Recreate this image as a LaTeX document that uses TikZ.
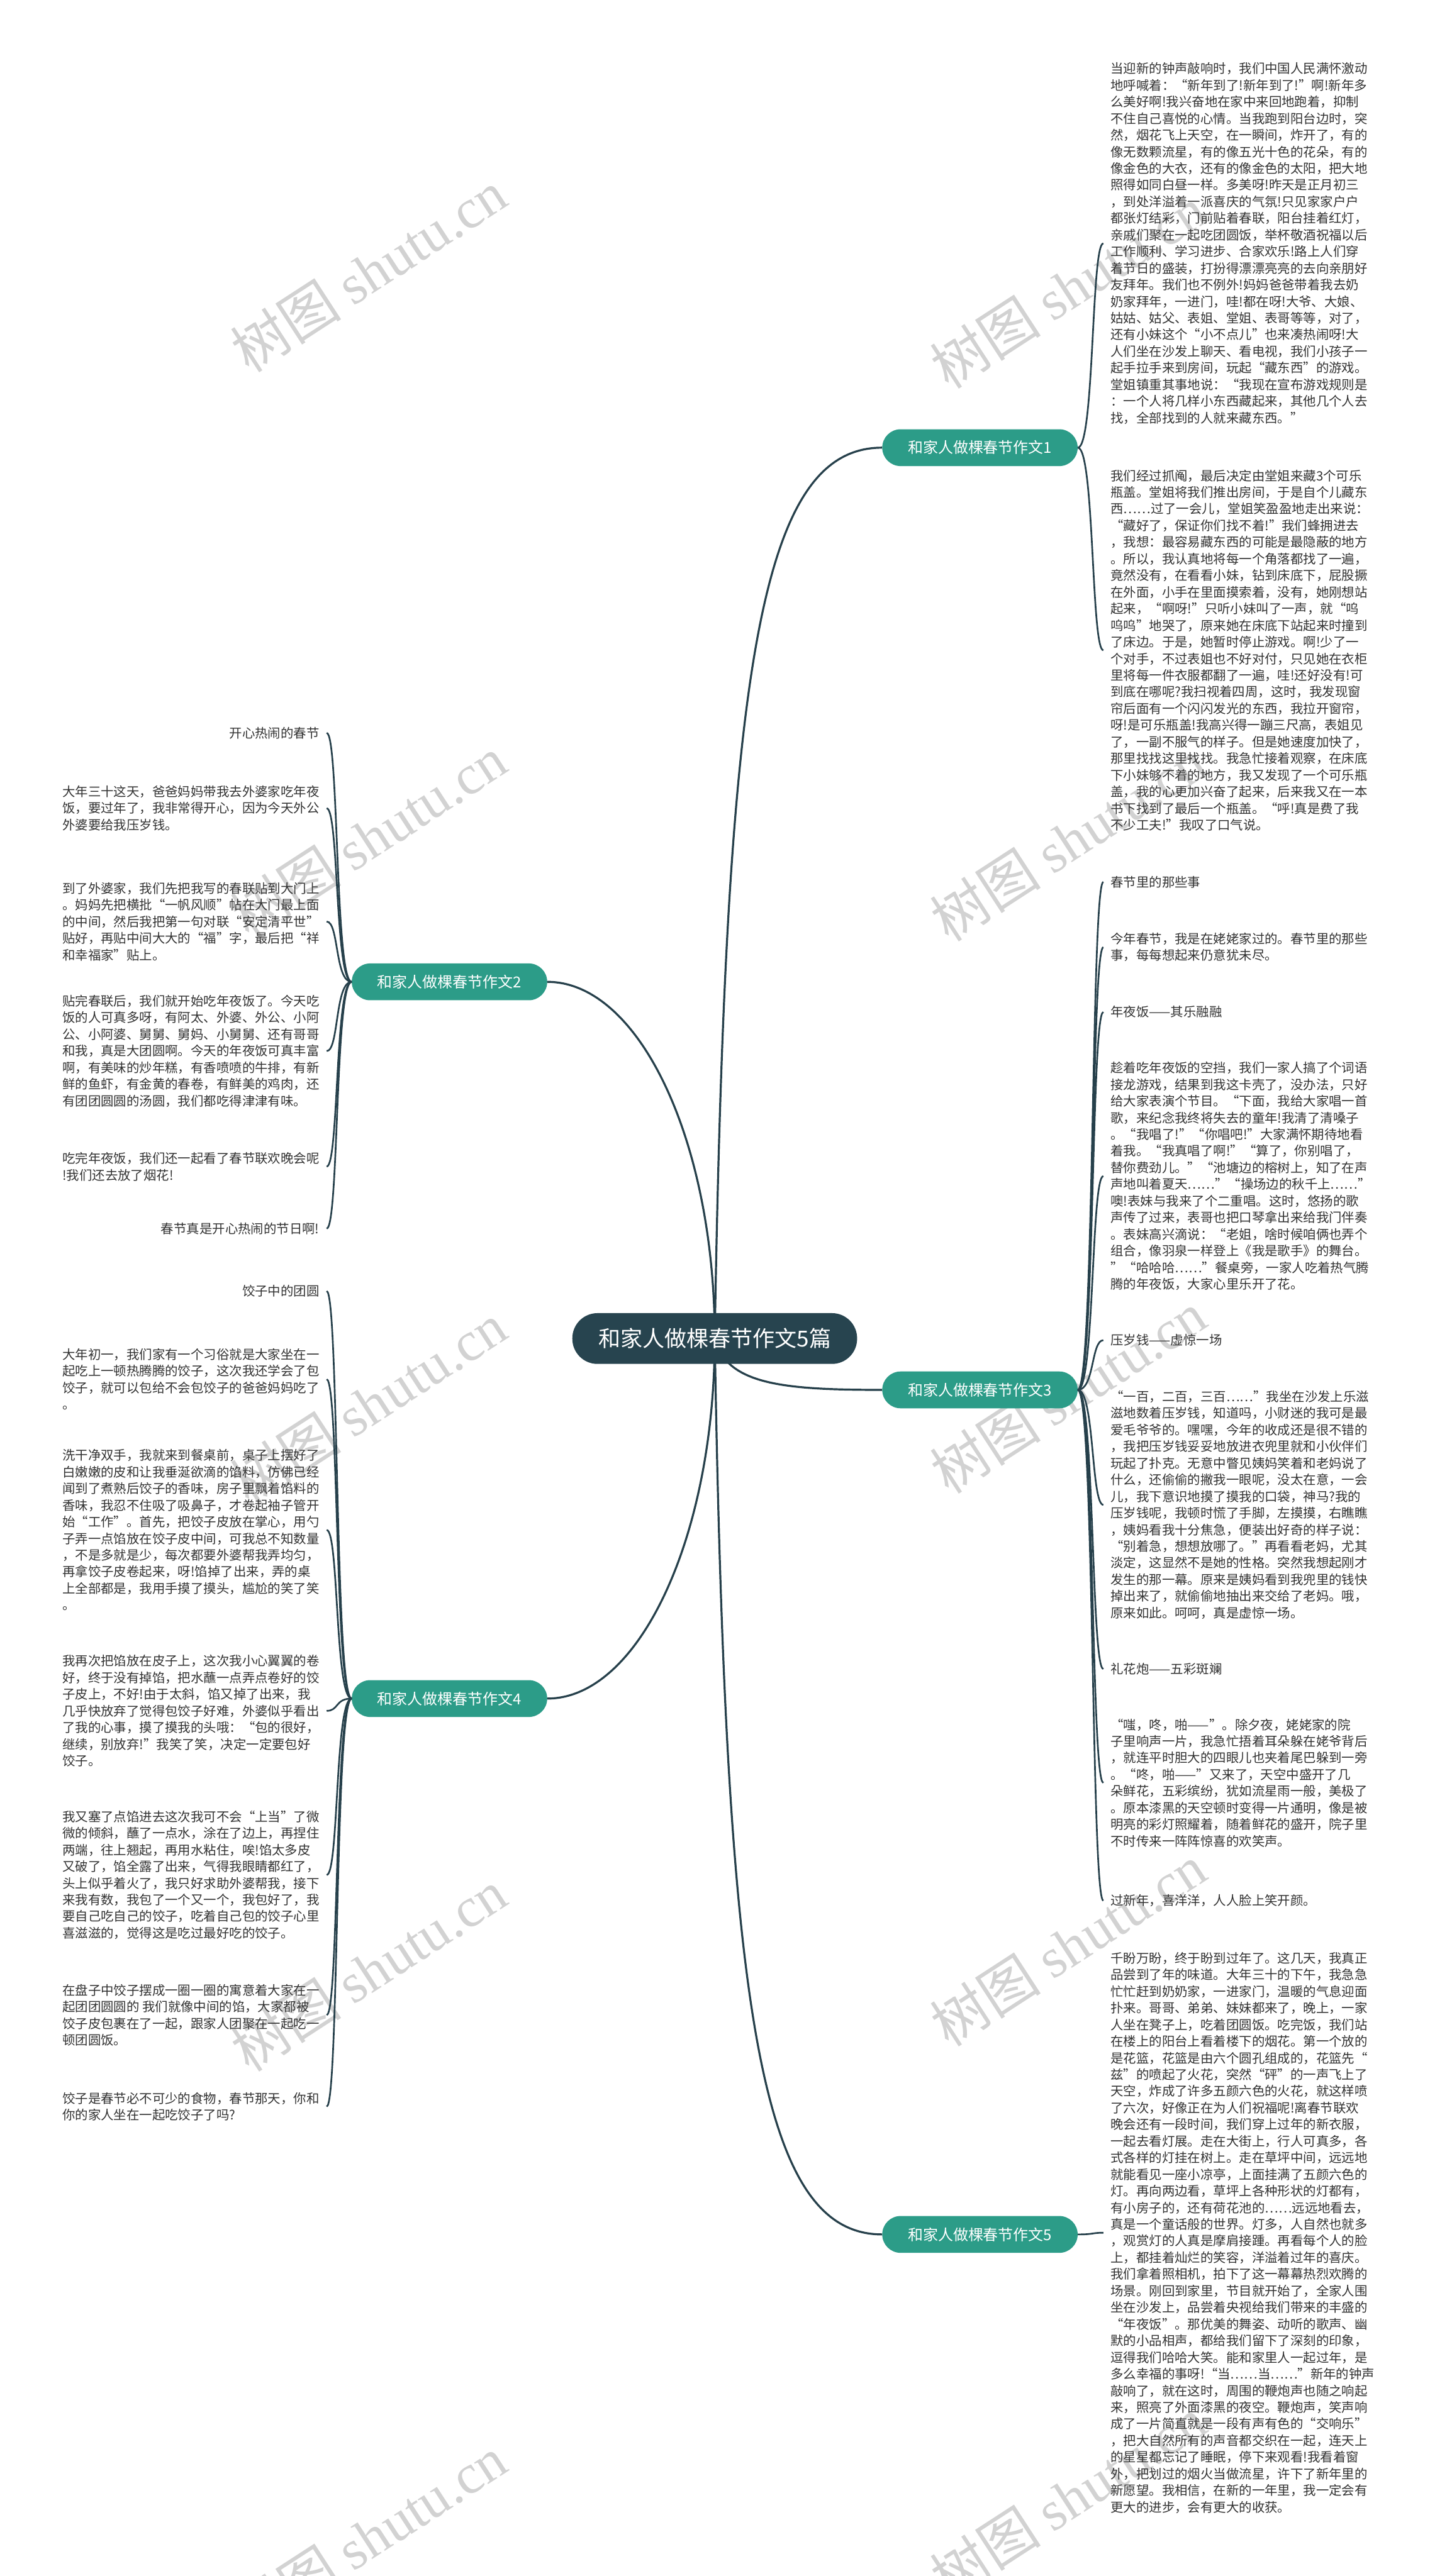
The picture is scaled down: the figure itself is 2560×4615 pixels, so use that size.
\documentclass[tikz,border=0pt]{standalone}
\usepackage{fontspec}
\setmainfont{Noto Sans CJK SC}
\newfontfamily\wmlatin{Liberation Serif}
\definecolor{linec}{HTML}{26404B}
\definecolor{branchc}{HTML}{2C9C88}
\definecolor{rootc}{HTML}{27444F}
\definecolor{txtc}{HTML}{333333}
\definecolor{wmc}{HTML}{D2D2D2}
\tikzset{
  leaf/.style={inner sep=0pt, align=left, text=txtc, font=\fontsize{23}{29.8}\selectfont},
  leafR/.style={leaf, anchor=west},
  leafL/.style={leaf, anchor=east},
  branch/.style={fill=branchc, rounded corners=33pt, text=white, minimum width=350pt, minimum height=66pt, inner sep=0pt, font=\fontsize{27}{30}\selectfont},
  root/.style={fill=rootc, rounded corners=45pt, text=white, minimum width=510pt, minimum height=91pt, inner sep=0pt, font=\fontsize{39.5}{42}\selectfont},
  mainline/.style={draw=linec, line width=3.6pt},
  subline/.style={draw=linec, line width=3pt},
  wm/.style={text=wmc, rotate=33, font=\fontsize{100}{100}\selectfont}
}
\begin{document}
\begin{tikzpicture}[x=1pt,y=-1pt]
\fill[white] (0,0) rectangle (2560,4615);
\useasboundingbox (0,0) rectangle (2560,4615);
% watermarks
\foreach \wx/\wy in {660/486, 1913/515, 660/1500, 1913/1505, 660/2515, 1913/2495, 660/3530, 1913/3485, 660/4545, 1913/4475}{
  \node[wm] (wm-\wx-\wy) at (\wx,\wy) {树图 {\wmlatin shutu.cn}};
}
% branches
\node[branch] (b1) at (1755,802) {和家人做棵春节作文1};
\node[branch] (b2) at (805,1759) {和家人做棵春节作文2};
\node[branch] (b3) at (1755,2490) {和家人做棵春节作文3};
\node[branch] (b4) at (805,3043) {和家人做棵春节作文4};
\node[branch] (b5) at (1755,4003) {和家人做棵春节作文5};
% main connectors from the root centre
\coordinate (rc) at (1280,2397);
\draw[mainline] (rc) .. controls (1300,1200) and (1360,802) .. (b1.west);
\draw[mainline] (rc) .. controls (1300,2480) and (1400,2490) .. (b3.west);
\draw[mainline] (rc) .. controls (1300,3600) and (1360,4003) .. (b5.west);
\draw[mainline] (rc) .. controls (1280,2045) and (1145,1759) .. (b2.east);
\draw[mainline] (rc) .. controls (1280,2752) and (1145,3043) .. (b4.east);
\node[root] (root) at (1280,2398) {和家人做棵春节作文5篇};
% ---------- right leaves: 作文1 ----------
\node[leafR] (r1a) at (1989,436) {当迎新的钟声敲响时，我们中国人民满怀激动\\
地呼喊着：“新年到了!新年到了!”啊!新年多\\
么美好啊!我兴奋地在家中来回地跑着，抑制\\
不住自己喜悦的心情。当我跑到阳台边时，突\\
然，烟花飞上天空，在一瞬间，炸开了，有的\\
像无数颗流星，有的像五光十色的花朵，有的\\
像金色的大衣，还有的像金色的太阳，把大地\\
照得如同白昼一样。多美呀!昨天是正月初三\\
，到处洋溢着一派喜庆的气氛!只见家家户户\\
都张灯结彩，门前贴着春联，阳台挂着红灯，\\
亲戚们聚在一起吃团圆饭，举杯敬酒祝福以后\\
工作顺利、学习进步、合家欢乐!路上人们穿\\
着节日的盛装，打扮得漂漂亮亮的去向亲朋好\\
友拜年。我们也不例外!妈妈爸爸带着我去奶\\
奶家拜年，一进门，哇!都在呀!大爷、大娘、\\
姑姑、姑父、表姐、堂姐、表哥等等，对了，\\
还有小妹这个“小不点儿”也来凑热闹呀!大\\
人们坐在沙发上聊天、看电视，我们小孩子一\\
起手拉手来到房间，玩起“藏东西”的游戏。\\
堂姐镇重其事地说：“我现在宣布游戏规则是\\
：一个人将几样小东西藏起来，其他几个人去\\
找，全部找到的人就来藏东西。”};
\node[leafR] (r1b) at (1989,1165) {我们经过抓阄，最后决定由堂姐来藏3个可乐\\
瓶盖。堂姐将我们推出房间，于是自个儿藏东\\
西……过了一会儿，堂姐笑盈盈地走出来说：\\
“藏好了，保证你们找不着!”我们蜂拥进去\\
，我想：最容易藏东西的可能是最隐蔽的地方\\
。所以，我认真地将每一个角落都找了一遍，\\
竟然没有，在看看小妹，钻到床底下，屁股撅\\
在外面，小手在里面摸索着，没有，她刚想站\\
起来，“啊呀!”只听小妹叫了一声，就“呜\\
呜呜”地哭了，原来她在床底下站起来时撞到\\
了床边。于是，她暂时停止游戏。啊!少了一\\
个对手，不过表姐也不好对付，只见她在衣柜\\
里将每一件衣服都翻了一遍，哇!还好没有!可\\
到底在哪呢?我扫视着四周，这时，我发现窗\\
帘后面有一个闪闪发光的东西，我拉开窗帘，\\
呀!是可乐瓶盖!我高兴得一蹦三尺高，表姐见\\
了，一副不服气的样子。但是她速度加快了，\\
那里找找这里找找。我急忙接着观察，在床底\\
下小妹够不着的地方，我又发现了一个可乐瓶\\
盖，我的心更加兴奋了起来，后来我又在一本\\
书下找到了最后一个瓶盖。“呼!真是费了我\\
不少工夫!”我叹了口气说。};
% ---------- right leaves: 作文3 ----------
\node[leafR] (r3a) at (1989,1580) {春节里的那些事};
\node[leafR] (r3b) at (1989,1697) {今年春节，我是在姥姥家过的。春节里的那些\\
事，每每想起来仍意犹未尽。};
\node[leafR] (r3c) at (1989,1813) {年夜饭——其乐融融};
\node[leafR] (r3d) at (1989,2107) {趁着吃年夜饭的空挡，我们一家人搞了个词语\\
接龙游戏，结果到我这卡壳了，没办法，只好\\
给大家表演个节目。“下面，我给大家唱一首\\
歌，来纪念我终将失去的童年!我清了清嗓子\\
。“我唱了!”“你唱吧!”大家满怀期待地看\\
着我。“我真唱了啊!”“算了，你别唱了，\\
替你费劲儿。”“池塘边的榕树上，知了在声\\
声地叫着夏天……”“操场边的秋千上……”\\
噢!表妹与我来了个二重唱。这时，悠扬的歌\\
声传了过来，表哥也把口琴拿出来给我门伴奏\\
。表妹高兴滴说：“老姐，啥时候咱俩也弄个\\
组合，像羽泉一样登上《我是歌手》的舞台。\\
”“哈哈哈……”餐桌旁，一家人吃着热气腾\\
腾的年夜饭，大家心里乐开了花。};
\node[leafR] (r3e) at (1989,2401) {压岁钱——虚惊一场};
\node[leafR] (r3f) at (1989,2696) {“一百，二百，三百……”我坐在沙发上乐滋\\
滋地数着压岁钱，知道吗，小财迷的我可是最\\
爱毛爷爷的。嘿嘿，今年的收成还是很不错的\\
，我把压岁钱妥妥地放进衣兜里就和小伙伴们\\
玩起了扑克。无意中瞥见姨妈笑着和老妈说了\\
什么，还偷偷的撇我一眼呢，没太在意，一会\\
儿，我下意识地摸了摸我的口袋，神马?我的\\
压岁钱呢，我顿时慌了手脚，左摸摸，右瞧瞧\\
，姨妈看我十分焦急，便装出好奇的样子说：\\
“别着急，想想放哪了。”再看看老妈，尤其\\
淡定，这显然不是她的性格。突然我想起刚才\\
发生的那一幕。原来是姨妈看到我兜里的钱快\\
掉出来了，就偷偷地抽出来交给了老妈。哦，\\
原来如此。呵呵，真是虚惊一场。};
\node[leafR] (r3g) at (1989,2990) {礼花炮——五彩斑斓};
\node[leafR] (r3h) at (1989,3194) {“嗤，咚，啪——”。除夕夜，姥姥家的院\\
子里响声一片，我急忙捂着耳朵躲在姥爷背后\\
，就连平时胆大的四眼儿也夹着尾巴躲到一旁\\
。“咚，啪——”又来了，天空中盛开了几\\
朵鲜花，五彩缤纷，犹如流星雨一般，美极了\\
。原本漆黑的天空顿时变得一片通明，像是被\\
明亮的彩灯照耀着，随着鲜花的盛开，院子里\\
不时传来一阵阵惊喜的欢笑声。};
\node[leafR] (r3i) at (1989,3405) {过新年，喜洋洋，人人脸上笑开颜。};
% ---------- right leaves: 作文5 ----------
\node[leafR] (r5a) at (1989,4000) {千盼万盼，终于盼到过年了。这几天，我真正\\
品尝到了年的味道。大年三十的下午，我急急\\
忙忙赶到奶奶家，一进家门，温暖的气息迎面\\
扑来。哥哥、弟弟、妹妹都来了，晚上，一家\\
人坐在凳子上，吃着团圆饭。吃完饭，我们站\\
在楼上的阳台上看着楼下的烟花。第一个放的\\
是花篮，花篮是由六个圆孔组成的，花篮先“\\
兹”的喷起了火花，突然“砰”的一声飞上了\\
天空，炸成了许多五颜六色的火花，就这样喷\\
了六次，好像正在为人们祝福呢!离春节联欢\\
晚会还有一段时间，我们穿上过年的新衣服，\\
一起去看灯展。走在大街上，行人可真多，各\\
式各样的灯挂在树上。走在草坪中间，远远地\\
就能看见一座小凉亭，上面挂满了五颜六色的\\
灯。再向两边看，草坪上各种形状的灯都有，\\
有小房子的，还有荷花池的……远远地看去，\\
真是一个童话般的世界。灯多，人自然也就多\\
，观赏灯的人真是摩肩接踵。再看每个人的脸\\
上，都挂着灿烂的笑容，洋溢着过年的喜庆。\\
我们拿着照相机，拍下了这一幕幕热烈欢腾的\\
场景。刚回到家里，节目就开始了，全家人围\\
坐在沙发上，品尝着央视给我们带来的丰盛的\\
“年夜饭”。那优美的舞姿、动听的歌声、幽\\
默的小品相声，都给我们留下了深刻的印象，\\
逗得我们哈哈大笑。能和家里人一起过年，是\\
多么幸福的事呀!“当……当……”新年的钟声\\
敲响了，就在这时，周围的鞭炮声也随之响起\\
来，照亮了外面漆黑的夜空。鞭炮声，笑声响\\
成了一片简直就是一段有声有色的“交响乐”\\
，把大自然所有的声音都交织在一起，连天上\\
的星星都忘记了睡眠，停下来观看!我看着窗\\
外，把划过的烟火当做流星，许下了新年里的\\
新愿望。我相信，在新的一年里，我一定会有\\
更大的进步，会有更大的收获。};
% ---------- left leaves: 作文2 ----------
\node[leafL] (l2a) at (572,1313) {开心热闹的春节};
\node[leafL] (l2b) at (572,1448) {大年三十这天，爸爸妈妈带我去外婆家吃年夜\\
饭，要过年了，我非常得开心，因为今天外公\\
外婆要给我压岁钱。};
\node[leafL] (l2c) at (572,1651) {到了外婆家，我们先把我写的春联贴到大门上\\
。妈妈先把横批“一帆风顺”帖在大门最上面\\
的中间，然后我把第一句对联“安定清平世”\\
贴好，再贴中间大大的“福”字，最后把“祥\\
和幸福家”贴上。};
\node[leafL] (l2d) at (572,1883) {贴完春联后，我们就开始吃年夜饭了。今天吃\\
饭的人可真多呀，有阿太、外婆、外公、小阿\\
公、小阿婆、舅舅、舅妈、小舅舅、还有哥哥\\
和我，真是大团圆啊。今天的年夜饭可真丰富\\
啊，有美味的炒年糕，有香喷喷的牛排，有新\\
鲜的鱼虾，有金黄的春卷，有鲜美的鸡肉，还\\
有团团圆圆的汤圆，我们都吃得津津有味。};
\node[leafL] (l2e) at (572,2090) {吃完年夜饭，我们还一起看了春节联欢晚会呢\\
!我们还去放了烟花!};
\node[leafL] (l2f) at (572,2201) {春节真是开心热闹的节日啊!};
% ---------- left leaves: 作文4 ----------
\node[leafL] (l4a) at (572,2313) {饺子中的团圆};
\node[leafL] (l4b) at (572,2471) {大年初一，我们家有一个习俗就是大家坐在一\\
起吃上一顿热腾腾的饺子，这次我还学会了包\\
饺子，就可以包给不会包饺子的爸爸妈妈吃了\\
。};
\node[leafL] (l4c) at (572,2741) {洗干净双手，我就来到餐桌前，桌子上摆好了\\
白嫩嫩的皮和让我垂涎欲滴的馅料，仿佛已经\\
闻到了煮熟后饺子的香味，房子里飘着馅料的\\
香味，我忍不住吸了吸鼻子，才卷起袖子管开\\
始“工作”。首先，把饺子皮放在掌心，用勺\\
子弄一点馅放在饺子皮中间，可我总不知数量\\
，不是多就是少，每次都要外婆帮我弄均匀，\\
再拿饺子皮卷起来，呀!馅掉了出来，弄的桌\\
上全部都是，我用手摸了摸头，尴尬的笑了笑\\
。};
\node[leafL] (l4d) at (572,3065) {我再次把馅放在皮子上，这次我小心翼翼的卷\\
好，终于没有掉馅，把水蘸一点弄点卷好的饺\\
子皮上，不好!由于太斜，馅又掉了出来，我\\
几乎快放弃了觉得包饺子好难，外婆似乎看出\\
了我的心事，摸了摸我的头哦：“包的很好，\\
继续，别放弃!”我笑了笑，决定一定要包好\\
饺子。};
\node[leafL] (l4e) at (572,3359) {我又塞了点馅进去这次我可不会“上当”了微\\
微的倾斜，蘸了一点水，涂在了边上，再捏住\\
两端，往上翘起，再用水粘住，唉!馅太多皮\\
又破了，馅全露了出来，气得我眼睛都红了，\\
头上似乎着火了，我只好求助外婆帮我，接下\\
来我有数，我包了一个又一个，我包好了，我\\
要自己吃自己的饺子，吃着自己包的饺子心里\\
喜滋滋的，觉得这是吃过最好吃的饺子。};
\node[leafL] (l4f) at (572,3610) {在盘子中饺子摆成一圈一圈的寓意着大家在一\\
起团团圆圆的 我们就像中间的馅，大家都被\\
饺子皮包裹在了一起，跟家人团聚在一起吃一\\
顿团圆饭。};
\node[leafL] (l4g) at (572,3774) {饺子是春节必不可少的食物，春节那天，你和\\
你的家人坐在一起吃饺子了吗?};
% ---------- leaf connectors ----------
\foreach \p/\c in {b1/r1a, b1/r1b, b3/r3a, b3/r3b, b3/r3c, b3/r3d, b3/r3e, b3/r3f, b3/r3g, b3/r3h, b3/r3i, b5/r5a}{
  \draw[subline] (\p.east) .. controls +(30,0) and +(-22,0) .. ([xshift=-13pt]\c.west);
}
\foreach \p/\c in {b2/l2a, b2/l2b, b2/l2c, b2/l2d, b2/l2e, b2/l2f, b4/l4a, b4/l4b, b4/l4c, b4/l4d, b4/l4e, b4/l4f, b4/l4g}{
  \draw[subline] (\p.west) .. controls +(-30,0) and +(22,0) .. ([xshift=13pt]\c.east);
}
\end{tikzpicture}
\end{document}
